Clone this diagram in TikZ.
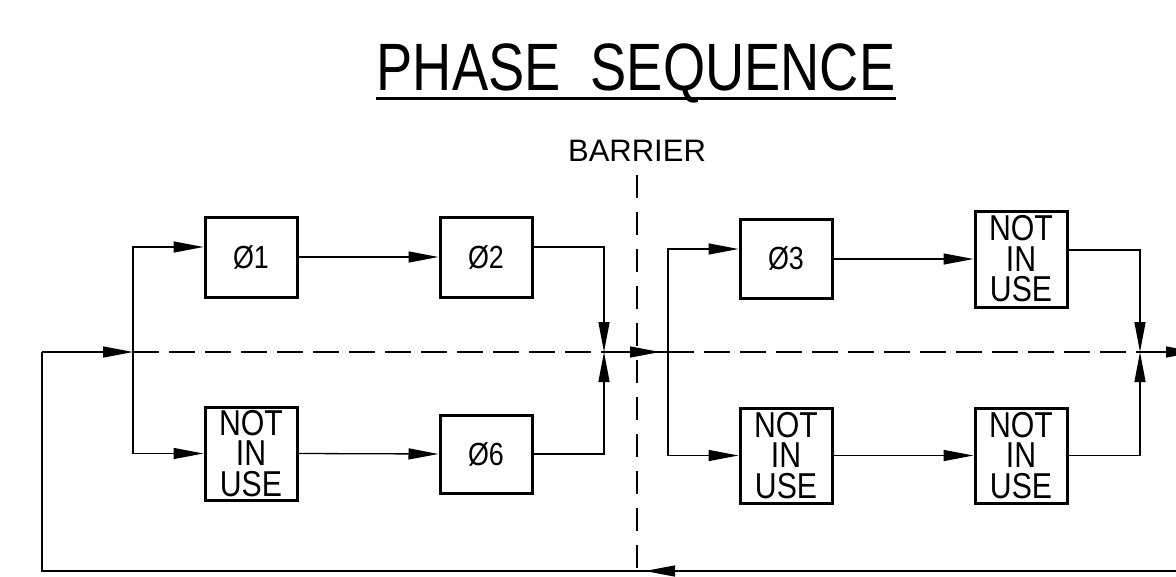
\documentclass[tikz,border=0pt]{standalone}
\usepackage{fontspec}
\setmainfont{Liberation Sans}
\newfontfamily\narrowf{Liberation Sans}[FakeStretch=0.84]
\newfontfamily\titlef{Liberation Sans}[FakeStretch=0.81]
\usetikzlibrary{arrows.meta,calc}
\tikzset{
  blk/.style={draw, line width=3pt, minimum width=92pt, inner sep=0pt, font=\narrowf\fontsize{32}{32}\selectfont},
  niu/.style={blk, minimum height=95pt, align=center, font=\narrowf\fontsize{36}{30.5}\selectfont},
  conn/.style={line width=1.3pt},
  tri/.style={-{Triangle[length=30pt,width=11pt]}},
  maindash/.style={conn, dash pattern=on 26pt off 10pt},
  barrierline/.style={line width=2.6pt, dash pattern=on 23pt off 14pt},
}
\begin{document}
\begin{tikzpicture}[x=1pt,y=-1pt]
\clip (0,0) rectangle (1176,576);
\fill[white] (0,0) rectangle (1176,576);

% title
\node[font=\titlef\fontsize{67}{67}\selectfont, anchor=base, inner sep=0pt] (title) at (636,90) {PHASE\ \ SEQUENCE};
\coordinate (ul1) at ($(title.base west)+(0,8)$);
\coordinate (ul2) at ($(title.base east)+(0,8)$);
\draw[line width=3pt] (ul1) -- (ul2);

% barrier
\node[font=\fontsize{31}{31}\selectfont, anchor=base, inner sep=0pt] (barrier) at (637,161) {BARRIER};
\coordinate (b1) at (637,175);
\coordinate (b2) at (637,590);
\draw[barrierline] (b1) -- (b2);

% blocks
\node[blk, minimum height=80pt] (p1) at (251,257) {Ø1};
\node[blk, minimum height=80pt] (p2) at (486,257) {Ø2};
\node[niu, minimum height=93pt] (n0) at (251,453.5) {NOT\\IN\\USE};
\node[blk, minimum height=78pt] (p6) at (486,454) {Ø6};
\node[blk, minimum height=79pt] (p3) at (786,258.5) {Ø3};
\node[niu, minimum height=96pt] (n1) at (1021,259) {NOT\\IN\\USE};
\node[niu] (n2) at (786,455.5) {NOT\\IN\\USE};
\node[niu] (n3) at (1021,455.5) {NOT\\IN\\USE};

% helper coordinates
\coordinate (in) at (42,352);
\coordinate (jL) at (133,352);
\coordinate (jM) at (604,352);
\coordinate (jR) at (668,352);
\coordinate (jE) at (1140,352);
\coordinate (out) at (1196,352);
\coordinate (ret) at (1200,571);
\coordinate (retA) at (645,571);
\coordinate (barA) at (660,352);
\coordinate (y247) at (0,247);
\coordinate (y249) at (0,249);
\coordinate (y250) at (0,250);
\coordinate (y259) at (0,259);

% left side
\draw[conn] (ret) -| (in);
\draw[conn,tri] (ret) -- (retA);
\draw[conn,tri] (in) -- (jL);
\draw[conn,tri] (jL) |- (p1.west |- y247);
\draw[conn,tri] (jL) |- (n0.west);
\draw[conn,tri] (p1.east) -- (p2.west);
\draw[conn,tri] (n0.east) -- (p6.west);
\draw[conn,tri] (p2.east |- y247) -| (jM);
\draw[conn,tri] (p6.east) -| (jM);
\draw[maindash] (jL) -- (jM);

% barrier crossing
\draw[conn] (jM) -- (jR);
\draw[conn,tri] (jM) -- (barA);

% right side
\draw[conn,tri] (jR) |- (p3.west |- y249);
\draw[conn,tri] (jR) |- (n2.west);
\draw[conn,tri] (p3.east |- y259) -- (n1.west |- y259);
\draw[conn,tri] (n2.east) -- (n3.west);
\draw[conn,tri] (n1.east |- y250) -| (jE);
\draw[conn,tri] (n3.east) -| (jE);
\draw[maindash] (jR) -- (jE);
\draw[conn,tri] (jE) -- (out);
\end{tikzpicture}
\end{document}
